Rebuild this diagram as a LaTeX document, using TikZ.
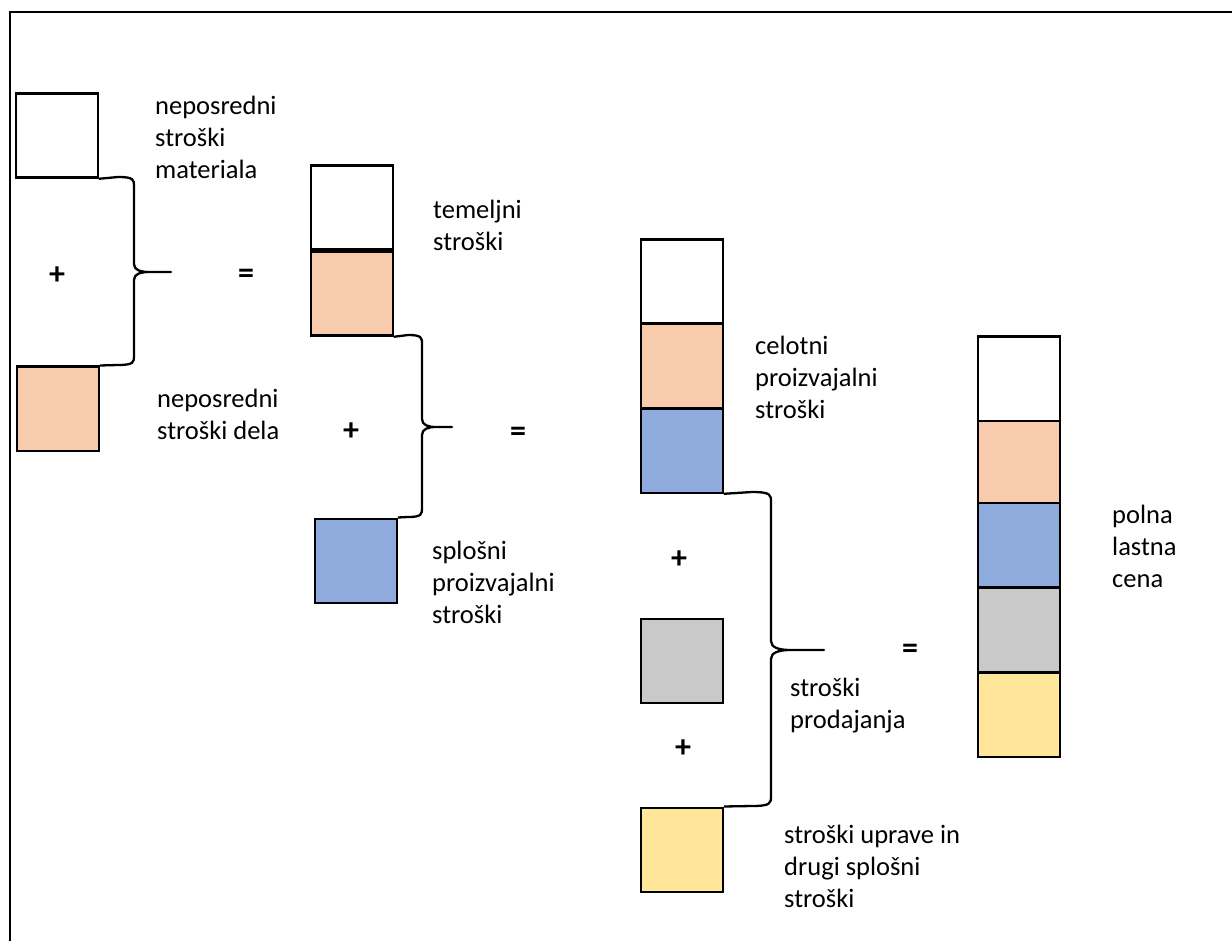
\documentclass[tikz,border=0pt]{standalone}
\usepackage{fontspec}
\setmainfont{Carlito}
\definecolor{peach}{HTML}{F8CBAD}
\definecolor{cblue}{HTML}{8FAADC}
\definecolor{cgray}{HTML}{C9C9C9}
\definecolor{cyellow}{HTML}{FFE699}
\begin{document}
\begin{tikzpicture}[x=1pt,y=-1pt,
  box/.style={draw=black,line width=2.3pt,minimum width=82pt,minimum height=84pt,inner sep=0pt,anchor=north west},
  lbl/.style={font=\fontsize{26.5}{32}\selectfont,align=left,anchor=west,inner sep=0pt},
  op/.style={font=\fontsize{32}{34}\selectfont\bfseries,inner sep=0pt},
  brace/.style={draw=black,line width=2.3pt,line join=round}]
\useasboundingbox (0,0) rectangle (1232,941);
% frame
\draw[line width=2.3pt] (1232,12) -- (10,12) -- (10,941);
% column 1
\node[box,fill=white] (m1) at (14.5,92.5) {};
\node[box,fill=peach] (d1) at (15.5,365.5) {};
\node[op] (p1) at (57,276) {+};
\node[op] (e1) at (246,276) {=};
\node[lbl] (tm1) at (155,137) {neposredni\\stroški\\materiala};
\node[lbl] (td1) at (157,414) {neposredni\\stroški dela};
\coordinate (t1) at (171,272);
\path[brace] (m1.south east) -- (118,177) .. controls (134,177) and (134,180) .. (134,186) -- (134,264) .. controls (134,270) and (140,272) .. (150,272) -- (t1) -- (150,272) .. controls (140,272) and (134,274) .. (134,280) -- (134,356) .. controls (134,362) and (134,365) .. (118,365) -- (d1.north east);
% column 2
\node[box,fill=white] (m2) at (309.5,164.5) {};
\node[box,fill=peach] (d2) at (309.5,250.5) {};
\draw[line width=3.5pt] (m2.south west) -- (m2.south east);
\node[box,fill=cblue] (s2) at (313.5,517.5) {};
\node[lbl] (tt2) at (433,225) {temeljni\\stroški};
\node[lbl] (ts2) at (432,582) {splošni\\proizvajalni\\stroški};
\node[op] (p2) at (351,432) {+};
\node[op] (e2) at (518,434) {=};
\coordinate (t2) at (452,427);
\path[brace] (d2.south east) -- (408,335) .. controls (422,335) and (422,338) .. (422,344) -- (422,419) .. controls (422,425) and (428,427) .. (436,427) -- (t2) -- (436,427) .. controls (428,427) and (422,429) .. (422,435) -- (422,508) .. controls (422,514) and (422,517) .. (408,517) -- (s2.north east);
% column 3
\node[box,fill=white] (m3) at (639.5,238.5) {};
\node[box,fill=peach] (d3) at (639.5,323) {};
\node[box,fill=cblue] (s3) at (639.5,407.5) {};
\node[lbl] (tc3) at (755,377) {celotni\\proizvajalni\\stroški};
\node[op] (p3) at (679,560) {+};
\node[box,fill=cgray] (g3) at (639.5,617.5) {};
\node[op] (p4) at (683,749) {+};
\node[box,fill=cyellow] (y3) at (639.5,806.5) {};
\node[lbl] (tp3) at (790,706) {stroški\\prodajanja};
\node[lbl] (tu3) at (784,866) {stroški uprave in\\drugi splošni\\stroški};
\coordinate (t3) at (824,650);
\path[brace] (s3.south east) -- (752,492) .. controls (771,492) and (771,495) .. (771,502) -- (771,641) .. controls (771,647) and (778,650) .. (790,650) -- (t3) -- (790,650) .. controls (778,650) and (771,653) .. (771,659) -- (771,796) .. controls (771,803) and (771,806) .. (752,806) -- (y3.north east);
\node[op] (e3) at (910,651) {=};
% column 4
\node[box,fill=white] (m4) at (976.5,335.5) {};
\node[box,fill=peach] (d4) at (976.5,420) {};
\node[box,fill=cblue] (s4) at (976.5,502) {};
\node[box,fill=cgray] (g4) at (976.5,586.5) {};
\node[box,fill=cyellow] (y4) at (976.5,671.5) {};
\node[lbl] (tl4) at (1112,546) {polna\\lastna\\cena};
\end{tikzpicture}
\end{document}
